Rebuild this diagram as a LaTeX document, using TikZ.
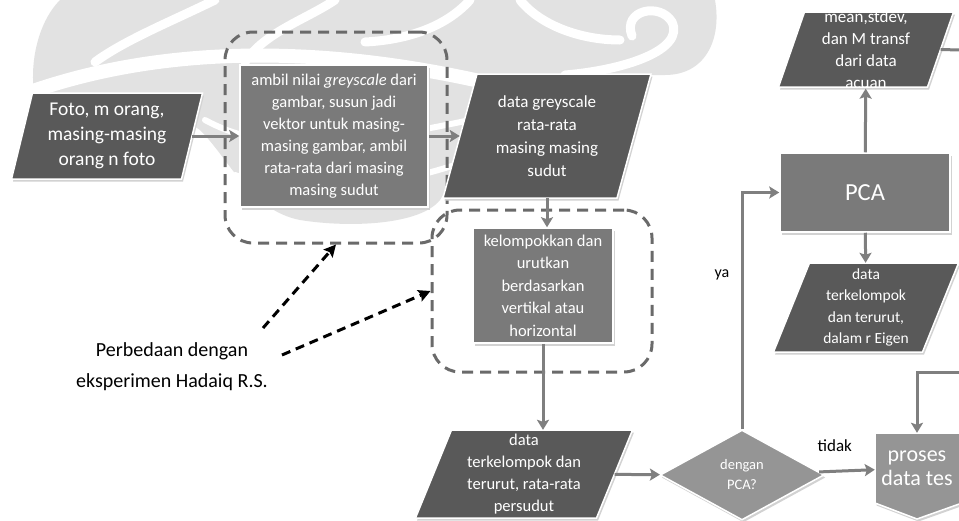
\documentclass[tikz,border=0pt]{standalone}
\usepackage{fontspec}
\setmainfont{Carlito}
\usetikzlibrary{arrows.meta,shapes.geometric,calc}

\definecolor{darkbox}{HTML}{595959}
\definecolor{midbox}{HTML}{7A7A7A}
\definecolor{lightbox}{HTML}{959595}
\definecolor{flowline}{HTML}{7F7F7F}
\definecolor{groupline}{HTML}{6A6A6A}
\definecolor{shade}{HTML}{D2D2D2}
\definecolor{emblem}{HTML}{E2E2E2}

\newcommand\fs[2]{\fontsize{#1}{#2}\selectfont}

\tikzset{
  flow/.style={draw=flowline, line width=3pt, -{Stealth[length=10pt,width=12pt,inset=2pt]}},
  plainflow/.style={draw=flowline, line width=3pt},
  note/.style={draw=black, line width=3pt, dash pattern=on 9pt off 6pt,
    -{Stealth[length=12pt,width=12pt,inset=2pt]}},
  group/.style={draw=groupline, line width=3pt, dash pattern=on 11pt off 7pt,
    rounded corners=28pt, inner sep=0pt},
  boxtext/.style={text=white, align=center, inner sep=0pt},
  shaped/.style={draw=white, line width=1.5pt,
    preaction={fill=shade, transform canvas={shift={(1.5pt,-2.5pt)}}}},
  parashape/.style={shaped, fill=darkbox},
  procbox/.style={boxtext, rectangle, shaped, fill=midbox},
  label/.style={text=black, inner sep=0pt},
  emblemcut/.style={draw=white, line width=9pt, line cap=round},
}

% slanted data box: name, centre x, centre y, side length, height, slant
\newcommand\slantbox[6]{%
  \path[parashape] ({#2-#4/2+#6/2},{#3-#5/2}) -- ({#2+#4/2+#6/2},{#3-#5/2})
    -- ({#2+#4/2-#6/2},{#3+#5/2}) -- ({#2-#4/2-#6/2},{#3+#5/2}) -- cycle;
  \node[boxtext, minimum width=#4pt, minimum height=#5pt] (#1) at (#2,#3)}

\begin{document}
\begin{tikzpicture}[x=1pt, y=-1pt]
\useasboundingbox (0,0) rectangle (959,520);
\clip (0,0) rectangle (959,520);
\fill[white] (0,0) rectangle (959,520);

% faint emblem in the background
\fill[emblem] (60,0) -- (715,0) .. controls (722,40) and (705,75) .. (665,75)
  -- (565,75) .. controls (505,80) and (470,150) .. (440,200)
  .. controls (420,225) and (350,228) .. (300,220)
  .. controls (250,210) and (230,160) .. (200,130)
  .. controls (150,95) and (70,95) .. (35,100)
  .. controls (28,60) and (40,20) .. (60,0) -- cycle;
\draw[emblemcut, line width=14pt] (30,92) .. controls (150,50) and (300,42) .. (475,80);
\draw[emblemcut] (215,0) .. controls (170,22) and (125,40) .. (95,62);
\draw[emblemcut] (335,0) .. controls (305,20) and (265,32) .. (245,62);
\draw[emblemcut] (470,0) .. controls (445,28) and (405,40) .. (365,42);
\draw[emblemcut] (565,75) .. controls (625,70) and (685,50) .. (672,22)
  .. controls (660,2) and (622,10) .. (632,36);
\draw[emblemcut] (520,0) .. controls (540,25) and (580,40) .. (620,40);
\draw[emblemcut, line width=6pt] (205,120) .. controls (260,150) and (330,150) .. (470,120);
\draw[emblemcut, line width=6pt] (235,175) .. controls (290,195) and (360,195) .. (455,165);

% dashed groups
\node[group, minimum width=222pt, minimum height=211pt] (grp1) at (336,137.5) {};
\node[group, minimum width=220pt, minimum height=162pt] (grp2) at (542,291) {};

% input photos
\slantbox{foto}{107}{136}{170}{86}{21}[font=\fs{19.5}{25}]
  {Foto, m orang,\\masing-masing\\orang n foto};

% greyscale extraction
\node[procbox, minimum width=188pt, minimum height=142pt, font=\fs{16.5}{22}]
  (ambil) at (334,136)
  {ambil nilai \textit{greyscale} dari\\gambar, susun jadi\\vektor untuk masing-\\masing gambar, ambil\\rata-rata dari masing\\masing sudut};

\slantbox{grey}{547}{136}{174}{124}{34}[font=\fs{17}{23}]
  {data greyscale\\rata-rata\\masing masing\\sudut};

\node[procbox, minimum width=140pt, minimum height=115pt, font=\fs{16.5}{22.5}]
  (klp) at (543,285.5)
  {kelompokkan dan\\urutkan\\berdasarkan\\vertikal atau\\horizontal};

\slantbox{terk}{524}{474}{181}{88}{36}[font=\fs{16.5}{22}]
  {data\\terkelompok dan\\terurut, rata-rata\\persudut};

% decision
\node[diamond, boxtext, shaped, fill=lightbox, minimum width=164pt, minimum height=90pt,
  font=\fs{14.5}{20}] (dec) at (742,475) {dengan\\PCA?};

% test data process
\path[shaped, fill=lightbox] (875,433) -- (962,433) -- (962,503) -- (917,519) -- (875,503) -- cycle;
\node[boxtext, minimum width=84pt, minimum height=70pt, font=\fs{22}{24}]
  (proses) at (917,468) {proses\\data tes};

% PCA branch
\node[procbox, minimum width=170pt, minimum height=79pt, font=\fs{24.5}{28}]
  (pca) at (865,192.5) {PCA};

\slantbox{eig}{866}{307.5}{149}{89}{36}[font=\fs{15.5}{21.5}]
  {data\\terkelompok\\dan terurut,\\dalam r Eigen};

\slantbox{mean}{866}{49.5}{149}{75}{26}[font=\fs{17}{22}]
  {mean,stdev,\\dan M transf\\dari data\\acuan};

% connectors
\draw[flow] (foto) -- (ambil);
\draw[flow] (ambil) -- (grey);
\draw[flow] (grey.south) -- (grey.south |- klp.north);
\draw[flow] (klp.south) -- (klp.south |- terk.north);
\draw[flow] (terk) -- (dec);
\draw[flow] (dec) -- node[label, pos=0.28, above=18pt, font=\fs{17}{20}] (tdk) {tidak} (proses);
\draw[flow] (dec.north) |- (pca.west);
\node[label, font=\fs{16}{20}] (ya) at (722,275) {ya};
\draw[flow] (pca) -- (eig);
\draw[flow] (pca) -- (mean);
\coordinate (edgeA) at (960,50);
\draw[plainflow] (mean.east) -- (edgeA);
\coordinate (edgeB) at (960,372);
\draw[flow] (edgeB) -| (proses.north);

% remark on the changed steps
\node[label, align=center, font=\fs{20}{31}] (remark) at (172,367)
  {Perbedaan dengan\\eksperimen Hadaiq R.S.};
\coordinate (r1) at (263,328);
\coordinate (r2) at (282,355);
\draw[note] (r1) -- (grp1.south);
\draw[note] (r2) -- (grp2.west);
\end{tikzpicture}
\end{document}
